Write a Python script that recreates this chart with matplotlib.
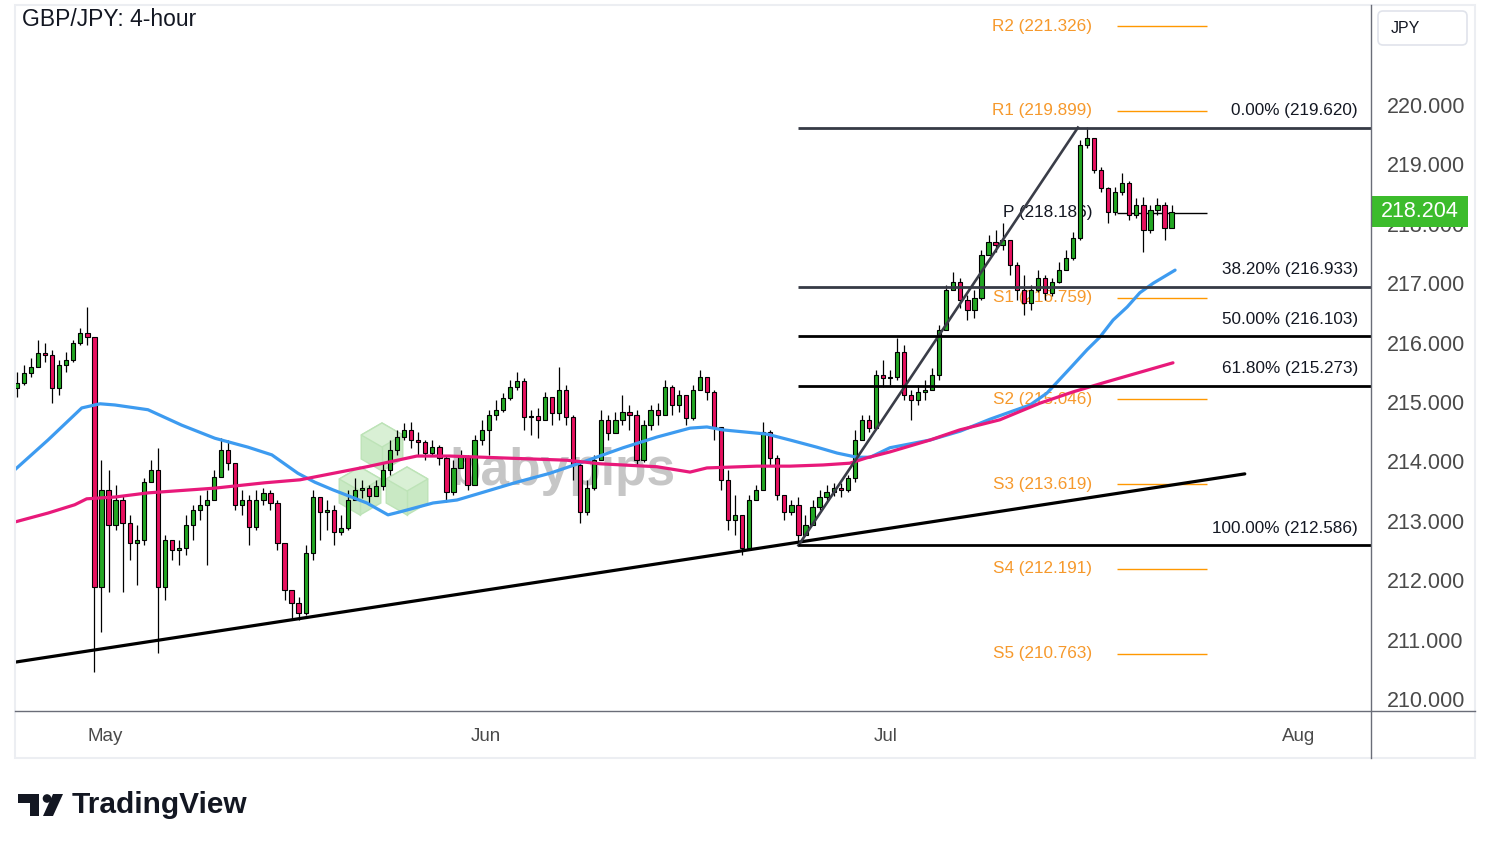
import matplotlib.pyplot as plt
from matplotlib.patches import Rectangle, RegularPolygon, Polygon, Circle, FancyBboxPatch
from matplotlib.transforms import blended_transform_factory

plt.rcParams['font.family'] = ['Liberation Sans', 'DejaVu Sans']

# ---- data (4h candles, open = previous close) ----
first_open = 215.24
closes = [
    215.32, 215.49, 215.59, 215.82, 215.79, 215.24, 215.62, 215.71, 215.99, 216.16,
    216.09, 211.89, 213.52, 212.93, 213.35, 212.96, 212.63, 212.68, 213.65, 213.86,
    211.89, 212.68, 212.51, 212.54, 212.93, 213.18, 213.27, 213.35, 213.74, 214.19,
    213.97, 213.27, 213.35, 212.90, 213.35, 213.47, 213.30, 212.63, 211.84, 211.62,
    211.45, 212.46, 213.40, 213.15, 213.18, 212.81, 212.88, 213.35, 213.52, 213.55,
    213.42, 213.59, 213.86, 214.19, 214.41, 214.53, 214.36, 214.33, 214.14, 214.24,
    214.06, 213.48, 213.89, 214.07, 213.60, 214.36, 214.53, 214.78, 214.87, 215.07,
    215.25, 215.35, 214.75, 214.76, 214.70, 215.08, 214.81, 215.20, 214.75, 213.94,
    213.15, 213.55, 214.02, 214.70, 214.48, 214.70, 214.83, 214.78, 214.02, 214.61,
    214.87, 214.78, 215.25, 214.95, 215.12, 214.73, 215.20, 215.42, 215.17, 214.58,
    213.69, 213.01, 213.10, 212.54, 213.35, 213.52, 214.49, 214.06, 213.43, 213.15,
    213.27, 212.76, 212.93, 213.23, 213.40, 213.48, 213.55, 213.52, 213.72, 214.36,
    214.70, 214.56, 215.45, 215.40, 215.42, 215.84, 215.12, 215.03, 215.17, 215.20,
    215.45, 216.21, 216.89, 217.02, 216.72, 216.55, 216.75, 217.47, 217.69, 217.64,
    217.73, 217.31, 216.89, 216.67, 216.89, 217.09, 216.84, 217.02, 217.22, 217.42,
    217.76, 219.33, 219.45, 218.91, 218.60, 218.20, 218.54, 218.69, 218.15, 218.32,
    217.90, 218.23, 218.32, 217.93, 218.204]
highs = [
    215.51, 215.62, 215.74, 216.04, 215.99, 215.88, 215.71, 215.84, 216.04, 216.25,
    216.60, 216.09, 214.02, 213.86, 213.60, 213.43, 213.10, 212.93, 213.72, 214.02,
    214.23, 212.76, 212.68, 212.68, 213.10, 213.27, 213.43, 213.52, 213.86, 214.39,
    214.36, 213.86, 213.52, 213.43, 213.52, 213.55, 213.52, 213.35, 212.34, 211.84,
    211.72, 212.59, 213.52, 213.35, 213.35, 213.27, 213.10, 213.52, 213.72, 213.69,
    213.60, 213.69, 213.99, 214.36, 214.53, 214.65, 214.66, 214.49, 214.36, 214.36,
    214.28, 214.11, 214.02, 214.19, 214.11, 214.44, 214.70, 214.87, 215.03, 215.15,
    215.37, 215.51, 215.40, 214.87, 214.90, 215.17, 215.03, 215.59, 215.29, 214.78,
    214.02, 213.69, 214.11, 214.87, 214.78, 214.83, 215.12, 214.95, 214.87, 214.70,
    214.95, 214.98, 215.37, 215.29, 215.20, 214.95, 215.29, 215.54, 215.42, 215.20,
    214.58, 213.86, 213.43, 213.10, 213.43, 213.60, 214.66, 214.53, 214.11, 213.43,
    213.35, 213.40, 213.10, 213.35, 213.52, 213.60, 213.64, 213.64, 213.77, 214.53,
    214.78, 214.78, 215.54, 215.71, 215.54, 216.08, 215.96, 215.20, 215.29, 215.37,
    215.57, 216.30, 216.97, 217.19, 217.09, 216.80, 216.89, 217.56, 217.81, 217.90,
    218.01, 217.73, 217.36, 217.14, 216.97, 217.22, 217.14, 217.09, 217.36, 217.56,
    217.86, 219.41, 219.63, 219.45, 218.95, 218.62, 218.62, 218.86, 218.72, 218.43,
    218.45, 218.32, 218.43, 218.37, 218.32]
lows = [
    215.08, 215.29, 215.42, 215.61, 215.67, 214.98, 215.12, 215.51, 215.67, 215.96,
    215.96, 210.45, 211.13, 211.80, 212.85, 211.80, 212.34, 211.92, 212.59, 213.69,
    210.77, 211.67, 212.34, 212.26, 212.42, 212.68, 213.01, 212.26, 213.52, 213.77,
    213.86, 213.18, 213.10, 212.59, 212.85, 213.27, 213.18, 212.51, 211.67, 211.33,
    211.33, 211.41, 212.34, 212.68, 212.85, 212.59, 212.76, 212.85, 213.35, 213.38,
    213.27, 213.43, 213.52, 213.77, 214.11, 214.36, 214.23, 214.11, 214.02, 214.11,
    213.94, 213.32, 213.43, 213.94, 213.52, 213.60, 214.28, 214.11, 214.70, 214.83,
    215.03, 215.20, 214.53, 214.44, 214.39, 214.70, 214.61, 214.70, 214.61, 213.69,
    212.96, 213.10, 213.52, 214.19, 214.36, 214.49, 214.61, 214.53, 213.94, 213.99,
    214.53, 214.61, 214.78, 214.78, 214.83, 214.61, 214.70, 215.29, 215.03, 214.36,
    213.52, 212.85, 212.76, 212.42, 212.51, 213.35, 213.52, 213.94, 213.35, 213.01,
    213.10, 212.59, 212.76, 212.93, 213.18, 213.35, 213.42, 213.40, 213.48, 213.65,
    214.36, 214.49, 214.61, 215.25, 215.29, 215.37, 215.03, 214.70, 214.95, 215.03,
    215.20, 215.37, 216.30, 216.89, 216.58, 216.38, 216.41, 216.72, 217.47, 217.53,
    217.56, 217.14, 216.72, 216.46, 216.55, 216.85, 216.72, 216.78, 217.00, 217.22,
    217.39, 217.73, 219.28, 218.86, 218.54, 218.01, 218.15, 218.48, 218.06, 218.10,
    217.53, 217.85, 218.15, 217.73, 218.03]

# moving averages (x in bar units)
blue_x = [-0.3, 4.4, 9.2, 11.8, 13.9, 18.6, 23.4, 28.1, 32.8, 36.2, 39.9, 42.3, 44.9, 49.7, 52.7, 54.4,
          59.1, 62.5, 66.2, 71.0, 75.7, 80.4, 86.1, 90.9, 95.6, 98.0, 100.3, 106.5, 109.8, 113.6, 116.5,
          119.3, 121.2, 124.0, 129.7, 134.0, 138.2, 141.5, 143.9, 146.3, 149.6, 152.0, 153.8, 155.7,
          157.7, 159.5, 161.4, 164.5]
blue_y = [213.86, 214.36, 214.90, 214.97, 214.95, 214.87, 214.61, 214.39, 214.24, 214.11, 213.80, 213.65,
          213.52, 213.30, 213.10, 213.15, 213.30, 213.35, 213.48, 213.65, 213.80, 213.99, 214.23, 214.41,
          214.56, 214.58, 214.53, 214.46, 214.36, 214.24, 214.14, 214.07, 214.07, 214.23, 214.36, 214.51,
          214.71, 214.85, 214.95, 215.15, 215.57, 215.88, 216.09, 216.38, 216.60, 216.84, 217.00, 217.22]
pink_x = [-0.3, 4.4, 8.2, 9.9, 13.9, 18.6, 28.1, 35.2, 40.2, 49.7, 56.8, 61.5, 68.6, 73.3, 78.1, 82.8,
          90.9, 95.6, 98.0, 105.1, 109.8, 114.5, 118.3, 120.7, 124.0, 129.7, 133.9, 139.6, 145.3, 150.0,
          154.8, 164.2]
pink_y = [212.98, 213.13, 213.27, 213.37, 213.40, 213.47, 213.55, 213.64, 213.69, 213.91, 214.09, 214.09,
          214.06, 214.04, 214.02, 213.96, 213.91, 213.82, 213.89, 213.92, 213.92, 213.94, 213.97, 214.06,
          214.16, 214.36, 214.53, 214.70, 214.98, 215.17, 215.34, 215.66]

trend_x = [-0.3, 174.4]
trend_y = [210.62, 213.79]

fib_pct = ['0.00%', '38.20%', '50.00%', '61.80%', '100.00%']
fib_val = [219.620, 216.933, 216.103, 215.273, 212.586]
fib_col = ['#363a45', '#363a45', '#000000', '#000000', '#000000']
fib_start = 110.9
fib_diag_x = [111.0, 150.7]

piv_name = ['R2', 'R1', 'P', 'S1', 'S2', 'S3', 'S4', 'S5']
piv_val = [221.326, 219.899, 218.186, 216.759, 215.046, 213.619, 212.191, 210.763]
piv_x = [156.2, 169.0]
piv_label_x = 152.7

month_pos = [12.5, 66.6, 123.4, 182.0]
month_lab = ['May', 'Jun', 'Jul', 'Aug']
price_ticks = list(range(210, 221))

UP, DOWN = '#22a722', '#e8105f'
ORANGE, ORANGE_TXT = '#ff9800', '#f6992c'
AXIS_TXT = '#4a4a4a'

# ---- figure layout (pixels) ----
W, H = 1491, 849
L, R, T, B = 15, 1371, 5, 711
X0, STEP = 17, 7.04              # pixel of bar 0, pixels per bar
Y220, PXU = 105, 59.4            # pixel of 220.000, pixels per yen

fig = plt.figure(figsize=(W / 100, H / 100), dpi=100)
fig.patch.set_facecolor('white')

bg = fig.add_axes([0, 0, 1, 1], zorder=0)
bg.set_xlim(0, W)
bg.set_ylim(H, 0)
bg.axis('off')

ax = fig.add_axes([L / W, 1 - B / H, (R - L) / W, (B - T) / H], zorder=1)
ax.set_facecolor('none')
ax.set_xlim((L - X0) / STEP, (R - X0) / STEP)
ax.set_ylim(220 - (B - Y220) / PXU, 220 + (Y220 - T) / PXU)
for s in ax.spines.values():
    s.set_visible(False)

fg = fig.add_axes([0, 0, 1, 1], zorder=2)
fg.set_xlim(0, W)
fg.set_ylim(H, 0)
fg.axis('off')
fg.patch.set_alpha(0)

# ---- watermark (babypips cubes + word) ----
r = 24
for cx, cy in [(382, 447), (360, 491), (407, 491)]:
    bg.add_patch(RegularPolygon((cx, cy), 6, radius=r, facecolor='#c9e9c4', edgecolor='#bde3b7', lw=1))
    dx = r * 0.866
    bg.add_patch(Polygon([(cx, cy - r), (cx - dx, cy - r / 2), (cx, cy), (cx + dx, cy - r / 2)],
                         closed=True, facecolor='#d9f0d5', edgecolor='#bde3b7', lw=1))
    bg.plot([cx, cx], [cy, cy + r], color='#bde3b7', lw=1)
bg.text(563, 471, 'babypips', fontsize=37, fontweight='bold', color='#c6c6c6', ha='center', va='center')

# ---- candles ----
opens = [first_open] + closes[:-1]
xs = list(range(len(closes)))
wick_lo = [min(lows[i], opens[i], closes[i]) for i in xs]
wick_hi = [max(highs[i], opens[i], closes[i]) for i in xs]
ax.vlines(xs, wick_lo, wick_hi, color='black', lw=0.9, zorder=3)
body_bot = [min(opens[i], closes[i]) for i in xs]
body_h = [max(abs(closes[i] - opens[i]), 0.02) for i in xs]
cols = [UP if closes[i] >= opens[i] else DOWN for i in xs]
ax.bar(xs, body_h, bottom=body_bot, width=0.6, color=cols, edgecolor='black', linewidth=0.8, zorder=3.1)

# ---- moving averages ----
ax.plot(blue_x, blue_y, color='#3d9bf0', lw=2.3, zorder=4, solid_capstyle='round')
ax.plot(pink_x, pink_y, color='#e8197a', lw=2.3, zorder=4, solid_capstyle='round')

# ---- trendline and fibonacci ----
ax.plot(trend_x, trend_y, color='black', lw=2.3, zorder=5, solid_capstyle='round')
ax.plot(fib_diag_x, [fib_val[-1], fib_val[0]], color='#3a3d48', lw=1.9, zorder=5)
xmax = ax.get_xlim()[1]
for pct, v, c in zip(fib_pct, fib_val, fib_col):
    ax.hlines(v, fib_start, xmax, color=c, lw=2.0, zorder=5)
    ax.annotate('%s (%.3f)' % (pct, v), xy=((1358 - X0) / STEP, v), xytext=(0, 12.5),
                textcoords='offset points', ha='right', va='center', fontsize=12.3, color='#131722', zorder=5)

# ---- pivot points ----
for name, v in zip(piv_name, piv_val):
    if name == 'P':
        lc, tc = 'black', '#131722'
    else:
        lc, tc = ORANGE, ORANGE_TXT
    ax.hlines(v, piv_x[0], piv_x[1], color=lc, lw=1.0, zorder=2)
    ax.text(piv_label_x, v, '%s (%.3f)' % (name, v), ha='right', va='center', fontsize=12.3, color=tc, zorder=2)

# ---- axes ticks ----
ax.yaxis.tick_right()
ax.set_yticks(price_ticks)
ax.set_yticklabels(['%.3f' % p for p in price_ticks])
ax.tick_params(axis='y', length=0, pad=11.5, labelsize=15.5, labelcolor=AXIS_TXT)
ax.set_xticks(month_pos)
ax.set_xticklabels(month_lab)
ax.tick_params(axis='x', length=0, pad=12, labelsize=13.5, labelcolor=AXIS_TXT)

# last price tag (covers the 218.000 label like the original)
last = closes[-1]
tr = blended_transform_factory(ax.transAxes, ax.transData)
tag_w = 97 / (R - L)
tag_h = 31 / PXU
ax.add_patch(Rectangle((1.0, last - tag_h / 2), tag_w, tag_h, transform=tr, clip_on=False,
                       facecolor='#3cbc2c', edgecolor='none', zorder=10))
ax.text(1.0 + tag_w / 2, last, '%.3f' % last, transform=tr, ha='center', va='center',
        fontsize=15.5, color='white', zorder=11, clip_on=False)

# ---- frame, separators, labels ----
fg.add_patch(Rectangle((L, T), 1460, 753, fill=False, edgecolor='#eceef2', lw=1.5))
fg.plot([R, R], [T, 758], color='#6a6d78', lw=1.0)
fg.plot([L, 1475], [B, B], color='#6a6d78', lw=1.0)
fg.add_patch(FancyBboxPatch((1378, 11), 89, 34, boxstyle='round,pad=0,rounding_size=5',
                            facecolor='white', edgecolor='#e0e3eb', lw=1.2))
fg.text(1391, 28, 'JPY', fontsize=11.5, color='#131722', va='center', ha='left')

bg.text(22, 19, 'GBP/JPY: 4-hour', fontsize=16.5, color='#131722', va='center', ha='left')

# TradingView logo
fg.add_patch(Polygon([(18, 794), (39, 794), (39, 816), (30, 816), (30, 803), (18, 803)],
                     closed=True, facecolor='#131722', edgecolor='none'))
fg.add_patch(Circle((47, 798.5), 4.3, facecolor='#131722', edgecolor='none'))
fg.add_patch(Polygon([(43, 816), (53, 816), (63, 794), (53, 794)], closed=True,
                     facecolor='#131722', edgecolor='none'))
fg.text(72, 805, 'TradingView', fontsize=21.5, fontweight='bold', color='#131722', va='center', ha='left')

fig.savefig('out.png', dpi=100, facecolor='white')
